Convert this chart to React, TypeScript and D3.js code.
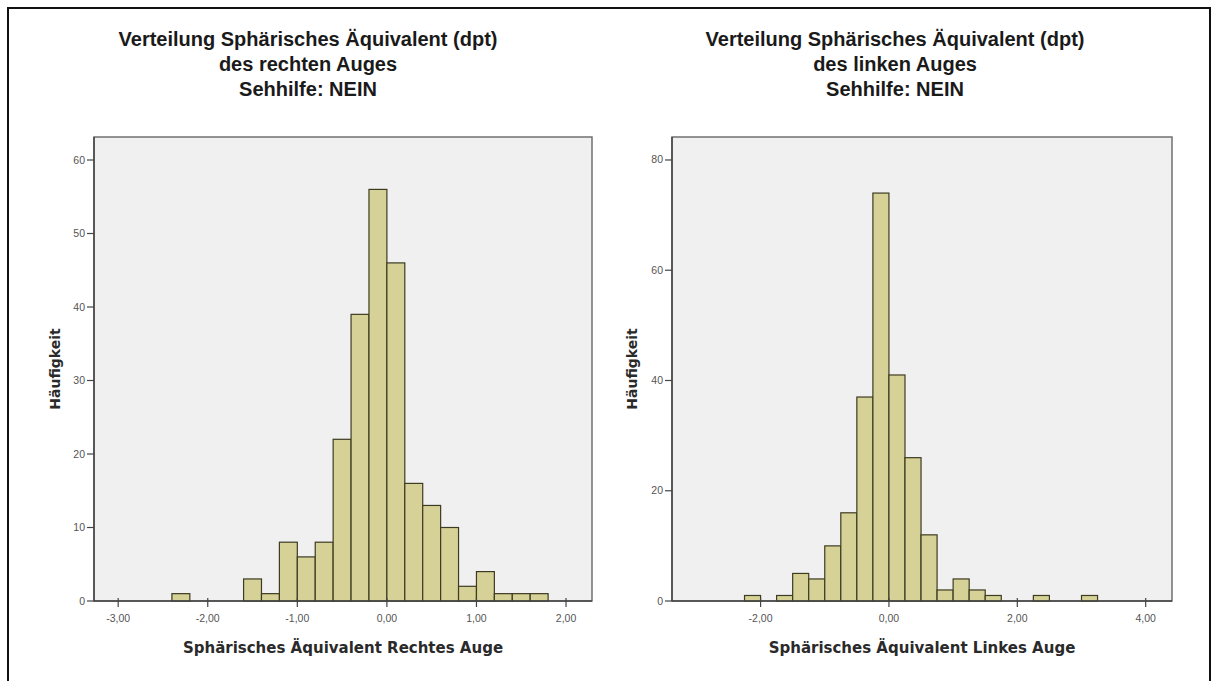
import React from "react";
import * as d3 from "d3";

// ---- Data ----
const leftBinStarts = [-2.4, -1.6, -1.4, -1.2, -1.0, -0.8, -0.6, -0.4, -0.2, 0.0, 0.2, 0.4, 0.6, 0.8, 1.0, 1.2, 1.4, 1.6];
const leftCounts = [1, 3, 1, 8, 6, 8, 22, 39, 56, 46, 16, 13, 10, 2, 4, 1, 1, 1];
const leftBinWidth = 0.2;
const leftXTicks = [-3, -2, -1, 0, 1, 2];
const leftYTicks = [0, 10, 20, 30, 40, 50, 60];

const rightBinStarts = [-2.25, -1.75, -1.5, -1.25, -1.0, -0.75, -0.5, -0.25, 0.0, 0.25, 0.5, 0.75, 1.0, 1.25, 1.5, 2.25, 3.0];
const rightCounts = [1, 1, 5, 4, 10, 16, 37, 74, 41, 26, 12, 2, 4, 2, 1, 1, 1];
const rightBinWidth = 0.25;
const rightXTicks = [-2, 0, 2, 4];
const rightYTicks = [0, 20, 40, 60, 80];

const leftTitle = ["Verteilung Sphärisches Äquivalent (dpt)", "des rechten Auges", "Sehhilfe: NEIN"];
const rightTitle = ["Verteilung Sphärisches Äquivalent (dpt)", "des linken Auges", "Sehhilfe: NEIN"];
const leftXLabel = "Sphärisches Äquivalent Rechtes Auge";
const rightXLabel = "Sphärisches Äquivalent Linkes Auge";
const yLabel = "Häufigkeit";

const fmt = (v: number) => d3.format(".2f")(v).replace(".", ",").replace("\u2212", "-");

type PanelProps = {
  x0: number; x1: number; y0: number; y1: number;
  xDomain: [number, number]; yMax: number;
  starts: number[]; counts: number[]; binWidth: number;
  xTicks: number[]; yTicks: number[];
  title: string[]; titleCx: number; xLabel: string; yLabelX: number;
};

function Panel(p: PanelProps) {
  const x = d3.scaleLinear().domain(p.xDomain).range([p.x0, p.x1]);
  const y = d3.scaleLinear().domain([0, p.yMax]).range([p.y1, p.y0]);
  const tickFont = "Liberation Sans, Arial, sans-serif";
  return (
    <g>
      {p.title.map((t, i) => (
        <text key={i} x={p.titleCx} y={46 + i * 25} textAnchor="middle"
          fontFamily="Liberation Sans, Arial, sans-serif" fontWeight="bold" fontSize={20} fill="#1a1a1a">{t}</text>
      ))}
      <rect x={p.x0} y={p.y0} width={p.x1 - p.x0} height={p.y1 - p.y0} fill="#f0f0f0" stroke="#707070" strokeWidth={1.5} />
      {p.starts.map((s, i) => (
        <rect key={i} x={x(s)} y={y(p.counts[i])} width={x(s + p.binWidth) - x(s)} height={y(0) - y(p.counts[i])}
          fill="#d6d196" stroke="#3d3b22" strokeWidth={1.2} />
      ))}
      {/* axes */}
      <line x1={p.x0} x2={p.x1} y1={p.y1} y2={p.y1} stroke="#444" strokeWidth={1.5} />
      <line x1={p.x0} x2={p.x0} y1={p.y0} y2={p.y1} stroke="#444" strokeWidth={1.5} />
      {p.yTicks.map((t) => (
        <g key={t}>
          <line x1={p.x0 - 7} x2={p.x0} y1={y(t)} y2={y(t)} stroke="#444" strokeWidth={1.2} />
          <text x={p.x0 - 9} y={y(t) + 3.5} textAnchor="end" fontFamily={tickFont} fontSize={10.5} fill="#555">{t}</text>
        </g>
      ))}
      {p.xTicks.map((t) => (
        <g key={t}>
          <line x1={x(t)} x2={x(t)} y1={p.y1 - 3} y2={p.y1 + 6} stroke="#444" strokeWidth={1.2} />
          <text x={x(t)} y={p.y1 + 21} textAnchor="middle" fontFamily={tickFont} fontSize={10.5} fill="#555">{fmt(t)}</text>
        </g>
      ))}
      <text x={(p.x0 + p.x1) / 2} y={653} textAnchor="middle" fontFamily="DejaVu Sans, Verdana, sans-serif"
        fontWeight="bold" fontSize={15} fill="#2a2a2a">{p.xLabel}</text>
      <text transform={`translate(${p.yLabelX},${(p.y0 + p.y1) / 2}) rotate(-90)`} textAnchor="middle"
        fontFamily="DejaVu Sans, Verdana, sans-serif" fontWeight="bold" fontSize={14} fill="#2a2a2a">{yLabel}</text>
    </g>
  );
}

export default function App() {
  return (
    <svg width={1218} height={681} style={{ position: "absolute", left: 0, top: 0, background: "#fff" }}>
      <rect x={8} y={8} width={1202} height={700} fill="#fff" stroke="#111" strokeWidth={2} />
      <Panel x0={94} x1={592} y0={137} y1={601} xDomain={[-3.27, 2.29]} yMax={63.13}
        starts={leftBinStarts} counts={leftCounts} binWidth={leftBinWidth}
        xTicks={leftXTicks} yTicks={leftYTicks} title={leftTitle} titleCx={308}
        xLabel={leftXLabel} yLabelX={60} />
      <Panel x0={672} x1={1172} y0={137} y1={601} xDomain={[-3.38, 4.41]} yMax={84.17}
        starts={rightBinStarts} counts={rightCounts} binWidth={rightBinWidth}
        xTicks={rightXTicks} yTicks={rightYTicks} title={rightTitle} titleCx={895}
        xLabel={rightXLabel} yLabelX={637} />
    </svg>
  );
}
